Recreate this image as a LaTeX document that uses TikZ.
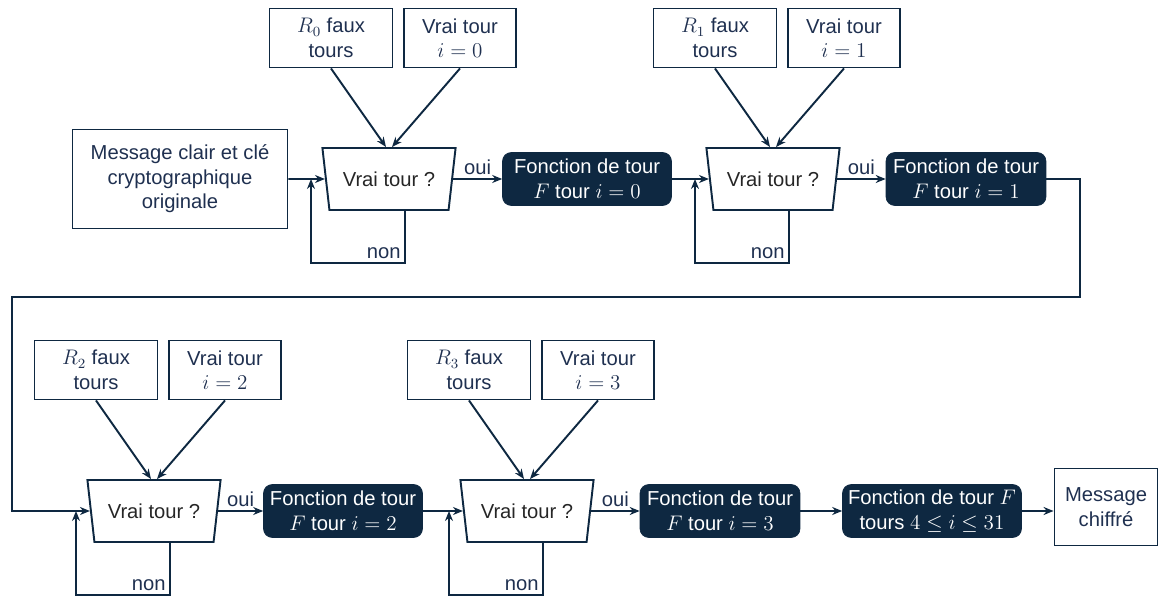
\documentclass[tikz,border=0pt]{standalone}
\usepackage{fontspec}
\setmainfont{Liberation Sans}
\usetikzlibrary{arrows.meta,calc,shapes.geometric}
\definecolor{roundNavy}{HTML}{0E2841}
\definecolor{roundInk}{HTML}{1F3050}
\definecolor{roundGray}{HTML}{262626}
\tikzset{
  every picture/.style={font=\fontsize{11.5}{14}\selectfont, text=roundInk},
  round input/.style={draw=roundNavy, line width=1.1pt, fill=white,
    align=center, minimum height=1.18cm, inner sep=1pt},
  round test/.style={trapezium, shape border rotate=180,
    trapezium stretches=true, trapezium left angle=77,
    trapezium right angle=77, draw=roundNavy, line width=1.1pt,
    minimum width=2.68cm, minimum height=1.24cm, text=roundGray},
  round func/.style={draw=roundNavy, fill=roundNavy, text=white,
    rounded corners=5pt, align=center, minimum width=3.2cm,
    minimum height=1.06cm, inner sep=1pt},
  round arrow/.style={-{Stealth[length=2mm,width=1.6mm]},
    draw=roundNavy, line width=1.1pt},
  round label/.style={inner sep=2pt}
}
\begin{document}
\begin{tikzpicture}[x=0.02cm,y=-0.02cm]
  \useasboundingbox (0,0) rectangle (1159,597);
  \node[round input, minimum width=4.3cm, minimum height=1.98cm] (msg)
    at (180,179) {Message clair et clé\\cryptographique\\originale};
  % one stage per true round
  \foreach \k/\tx/\ty/\fx/\fw in {0/389/179/587/3.38cm, 1/773/179/966/3.2cm,
      2/154/511/343/3.18cm, 3/527/511/720/3.2cm}{
    \node[round input, minimum width=2.46cm] (r\k) at (\tx-58,\ty-141)
      {$R_{\k}$ faux\\tours};
    \node[round input, minimum width=2.24cm] (v\k) at (\tx+71,\ty-141)
      {Vrai tour\\$i=\k$};
    \node[round test] (t\k) at (\tx,\ty) {Vrai tour ?};
    \node[round func, minimum width=\fw] (f\k) at (\fx,\ty)
      {Fonction de tour\\$F$ tour $i=\k$};
    \coordinate (l\k) at (\tx-78,\ty);
    \draw[round arrow] (r\k.south) -- ($(t\k.north)+(-3,0)$);
    \draw[round arrow] (v\k.south) -- ($(t\k.north)+(3,0)$);
    \draw[round arrow] (t\k.east) -- node[above, round label] {oui} (f\k.west);
    \draw[round arrow] ($(t\k.south)+(16,0)$) -- ++(0,52)
      node[above left, round label] {non} -| (l\k);
  }
  \node[round func, minimum width=3.58cm] (f4) at (932,511)
    {Fonction de tour $F$\\tours $4\le i\le 31$};
  \node[round input, minimum width=2.06cm, minimum height=1.54cm] (ch)
    at (1106,507) {Message\\chiffré};
  \coordinate (turnR) at (1080,297);
  \coordinate (turnL) at (12,297);
  \draw[round arrow] (msg.east) -- (t0.west);
  \draw[round arrow] (f0.east) -- (t1.west);
  \draw[round arrow] (f1.east) -| (turnR) -- (turnL) |- (t2.west);
  \draw[round arrow] (f2.east) -- (t3.west);
  \draw[round arrow] (f3.east) -- (f4.west);
  \draw[round arrow] (f4.east) -- (f4.east -| ch.west);
\end{tikzpicture}
\end{document}
